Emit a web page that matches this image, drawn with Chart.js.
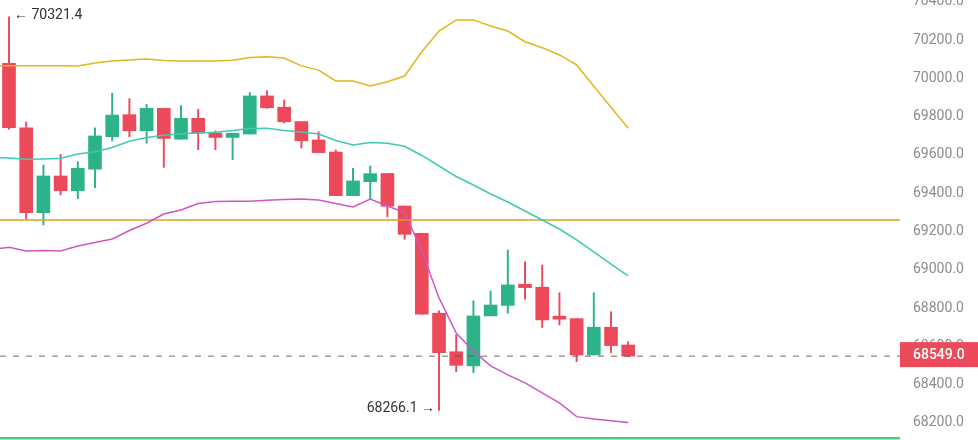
<!DOCTYPE html>
<html>
<head>
<meta charset="utf-8">
<script src="https://cdn.jsdelivr.net/npm/chart.js@4.4.1/dist/chart.umd.min.js"></script>
<style>
  html, body { margin: 0; padding: 0; background: #fff; }
  #wrap { width: 978px; height: 440px; }
</style>
</head>
<body>
<div id="wrap"><canvas id="kline" width="978" height="440"></canvas></div>
<script>
// candles (one per slot, left to right)
const candleOpen  = [70078, 69742, 69298, 69490, 69413, 69525, 69695, 69810, 69726, 69843, 69682, 69791, 69714, 69691, 69709, 69908, 69849, 69774, 69678, 69615, 69387, 69460, 69503, 69333, 69191, 68773, 68572, 68498, 68759, 68814, 68924, 68909, 68752, 68745, 68555, 68700, 68607];
const candleHigh  = [70321.4, 69772, 69547, 69603, 69565, 69742, 69922, 69894, 69864, 69843, 69858, 69839, 69725, 69713, 69926, 69934, 69887, 69774, 69721, 69626, 69530, 69542, 69503, 69333, 69191, 68786, 68660, 68838, 68889, 69103, 69042, 69025, 68880, 68745, 68880, 68781, 68625];
const candleLow   = [69735, 69265, 69234, 69391, 69371, 69429, 69673, 69695, 69661, 69535, 69682, 69627, 69627, 69575, 69709, 69843, 69767, 69636, 69612, 69387, 69387, 69368, 69277, 69159, 68768, 68266.1, 68468, 68463, 68759, 68773, 68846, 68698, 68712, 68520, 68555, 68567, 68549];
const candleClose = [69742, 69298, 69490, 69413, 69530, 69699, 69808, 69726, 69843, 69686, 69791, 69714, 69691, 69713, 69908, 69846, 69773, 69674, 69612, 69387, 69464, 69502, 69332, 69185, 68768, 68567, 68501, 68759, 68816, 68921, 68907, 68738, 68742, 68555, 68700, 68604, 68549];

// bollinger bands, starting one slot before the first candle
const upperBand  = [70066, 70066, 70066, 70066, 70066, 70064, 70080, 70090, 70096, 70101, 70093, 70090, 70090, 70090, 70094, 70109, 70113, 70106, 70065, 70043, 69986, 69986, 69960, 69982, 70012, 70139, 70247, 70305, 70305, 70273, 70247, 70191, 70160, 70122, 70070, 69959, 69849, 69739];
const middleBand = [69586, 69584, 69577, 69579, 69582, 69605, 69617, 69639, 69671, 69691, 69703, 69710, 69714, 69718, 69727, 69738, 69739, 69727, 69720, 69709, 69675, 69652, 69665, 69661, 69645, 69597, 69542, 69487, 69443, 69396, 69354, 69307, 69260, 69213, 69156, 69093, 69030, 68968];
const lowerBand  = [69106, 69117, 69098, 69101, 69098, 69124, 69143, 69161, 69205, 69243, 69291, 69312, 69346, 69357, 69358, 69358, 69363, 69367, 69370, 69365, 69346, 69328, 69369, 69333, 69299, 69098, 68853, 68670, 68576, 68498, 68451, 68409, 68357, 68305, 68233, 68221, 68211, 68202];

// horizontal levels
const resistanceLevel = 69260;
const lastPrice = 68549.0;
const supportLevel = 68120;

const yTicksStep = 200;

const xMin = -0.523, xMax = 51.8;
const yMin = 68111, yMax = 70409;

const upColor = '#2db38a';
const downColor = '#ec4a5a';
const FONT = 'Roboto, "Noto Sans", sans-serif';

const idx = candleOpen.map((_, i) => i);
const candleColors = idx.map(i => candleClose[i] >= candleOpen[i] ? upColor : downColor);

function bandData(arr) {
    return arr.map((v, k) => ({ x: k - 1, y: v }));
}
function levelData(v) {
    return [{ x: xMin, y: v }, { x: xMax, y: v }];
}

// texte + étiquette du dernier prix
const overlay = {
    id: 'overlay',
    afterDraw(chart) {
        const { ctx, scales: { x, y }, chartArea } = chart;
        ctx.save();
        ctx.font = '14px ' + FONT;
        ctx.fillStyle = '#333';
        ctx.textBaseline = 'middle';

        // max high / min low
        let hi = 0, lo = 0;
        candleHigh.forEach((v, i) => { if (v > candleHigh[hi]) hi = i; });
        candleLow.forEach((v, i) => { if (v < candleLow[lo]) lo = i; });

        ctx.textAlign = 'left';
        ctx.fillText('\u2190 ' + candleHigh[hi].toFixed(1), x.getPixelForValue(hi) + 5, y.getPixelForValue(candleHigh[hi]) - 1);
        ctx.textAlign = 'right';
        ctx.fillText(candleLow[lo].toFixed(1) + ' \u2192', x.getPixelForValue(lo) - 4, y.getPixelForValue(candleLow[lo]) - 2);

        // price tag
        const py = y.getPixelForValue(lastPrice);
        ctx.fillStyle = downColor;
        ctx.fillRect(chartArea.right, py - 14, chart.width - chartArea.right, 25);
        ctx.fillStyle = '#fff';
        ctx.textAlign = 'left';
        ctx.font = '500 14px ' + FONT;
        ctx.fillText(lastPrice.toFixed(1), chartArea.right + 13, py - 1);
        ctx.restore();
    }
};

const ctx = document.getElementById('kline').getContext('2d');
const chart = new Chart(ctx, {
    type: 'bar',
    data: {
        datasets: [
            {
                type: 'line', data: bandData(upperBand), borderColor: '#e3b51e',
                borderWidth: 1.5, pointRadius: 0, tension: 0, order: 0
            },
            {
                type: 'line', data: bandData(middleBand), borderColor: '#3fcab4',
                borderWidth: 1.5, pointRadius: 0, tension: 0, order: 0
            },
            {
                type: 'line', data: bandData(lowerBand), borderColor: '#d056c2',
                borderWidth: 1.5, pointRadius: 0, tension: 0, order: 0
            },
            {
                type: 'line', data: levelData(resistanceLevel), borderColor: '#d9a521',
                borderWidth: 1.5, pointRadius: 0, order: 0
            },
            {
                type: 'line', data: levelData(lastPrice), borderColor: 'rgba(105, 70, 75, 0.85)',
                borderWidth: 1, borderDash: [6, 7], pointRadius: 0, order: 0
            },
            {
                type: 'line', data: levelData(supportLevel), borderColor: '#45cf7c',
                borderWidth: 2.5, pointRadius: 0, order: 0
            },
            {
                // bodies
                data: idx.map(i => ({ x: i, y: [candleOpen[i], candleClose[i]] })),
                backgroundColor: candleColors, barThickness: 13, minBarLength: 3,
                grouped: false, order: 1
            },
            {
                // wicks
                data: idx.map(i => ({ x: i, y: [candleLow[i], candleHigh[i]] })),
                backgroundColor: candleColors, barThickness: 1.3,
                grouped: false, order: 2
            }
        ]
    },
    options: {
        responsive: false,
        devicePixelRatio: 1,
        animation: false,
        layout: { padding: 0 },
        plugins: { legend: { display: false }, tooltip: { enabled: false } },
        scales: {
            x: {
                type: 'linear', min: xMin, max: xMax, offset: false, display: false
            },
            y: {
                position: 'right',
                min: yMin, max: yMax,
                grid: { display: false, drawTicks: false },
                border: { display: false },
                ticks: {
                    stepSize: yTicksStep, maxTicksLimit: 20, includeBounds: false,
                    padding: 13, color: '#8c8c8c',
                    font: { family: FONT, size: 14 },
                    callback: v => Number(v).toFixed(1)
                },
                afterFit(s) { s.width = 78; s.paddingTop = 0; s.paddingBottom = 0; }
            }
        }
    },
    plugins: [overlay]
});
</script>
</body>
</html>
